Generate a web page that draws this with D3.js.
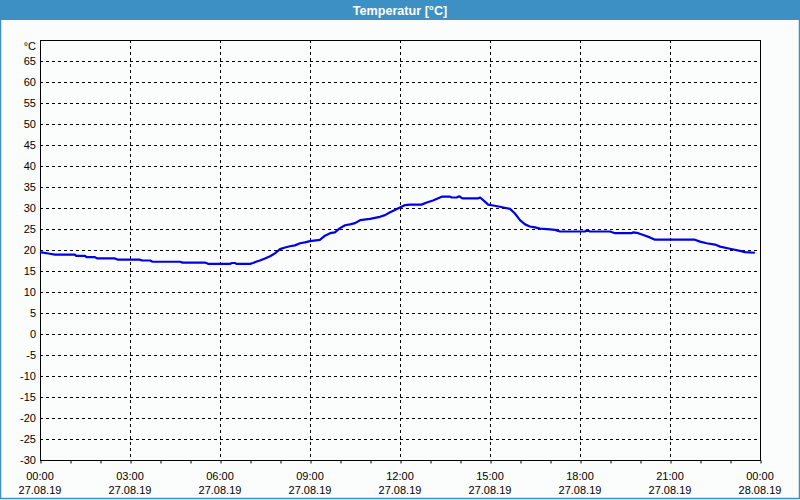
<!DOCTYPE html>
<html>
<head>
<meta charset="utf-8">
<script src="https://cdn.jsdelivr.net/npm/d3@7"></script>
<style>
html, body { margin: 0; padding: 0; background: #fbfdfc; }
svg { display: block; }
</style>
</head>
<body>
<svg id="chart" width="800" height="500"></svg>
<script>
// ---- data ----
const hours = [0,0.33,0.5,1.17,1.2,1.5,1.55,1.83,1.9,2.5,2.6,3.33,3.4,3.67,3.75,4.67,4.75,5.5,5.6,6.33,6.4,6.5,6.55,7.0,7.1,7.2,7.33,7.5,7.67,7.83,8.0,8.17,8.33,8.5,8.67,8.83,9.0,9.33,9.5,9.67,9.83,10.0,10.17,10.33,10.5,10.67,11.0,11.33,11.5,11.67,11.83,12.0,12.17,12.33,12.72,12.89,13.1,13.39,13.67,13.72,13.89,13.97,14.08,14.61,14.67,14.83,14.94,15.11,15.33,15.67,15.83,16.0,16.17,16.33,16.5,16.67,17.0,17.17,17.33,18.17,18.23,18.33,19.0,19.17,19.72,19.78,19.94,20.11,20.33,20.5,21.83,22.0,22.22,22.5,22.67,23.0,23.33,23.5,23.83];
const temps = [19.5,19.1,18.9,18.9,18.6,18.6,18.3,18.3,18.0,18.0,17.7,17.7,17.5,17.5,17.2,17.2,17.0,17.0,16.7,16.7,16.9,16.9,16.7,16.7,16.9,17.2,17.5,18.0,18.5,19.2,20.2,20.6,20.9,21.1,21.6,21.8,22.1,22.4,23.4,24.0,24.2,25.2,25.9,26.1,26.4,27.1,27.4,27.9,28.3,29.0,29.5,30.1,30.7,30.8,30.8,31.3,31.8,32.7,32.7,32.5,32.5,32.8,32.3,32.3,32.5,31.5,30.8,30.6,30.3,29.8,28.7,27.1,26.1,25.6,25.4,25.1,24.9,24.8,24.4,24.4,24.7,24.4,24.4,24.0,24.0,24.2,24.0,23.55,23.0,22.45,22.45,22.0,21.6,21.3,20.8,20.3,19.8,19.5,19.35];
const yTicks = [-30,-25,-20,-15,-10,-5,0,5,10,15,20,25,30,35,40,45,50,55,60,65];
const xMajor = [0,3,6,9,12,15,18,21,24];
const timeLabels = ["00:00","03:00","06:00","09:00","12:00","15:00","18:00","21:00","00:00"];
const dateLabels = ["27.08.19","27.08.19","27.08.19","27.08.19","27.08.19","27.08.19","27.08.19","27.08.19","28.08.19"];
const title = "Temperatur [°C]";
const unit = "°C";

// ---- layout ----
const W = 800, H = 500;
const L = 40, R = 760, T = 40, B = 460;
const svg = d3.select("#chart");
const font = "'Liberation Sans', Arial, sans-serif";

const x = d3.scaleLinear().domain([0,24]).range([L,R]);
const y = d3.scaleLinear().domain([-30,70]).range([B,T]);

// frame
svg.append("rect").attr("x",0).attr("y",0).attr("width",W).attr("height",H).attr("fill","#fbfdfc");
svg.append("rect").attr("x",0).attr("y",0).attr("width",W).attr("height",20).attr("fill","#3d90c3");
svg.append("rect").attr("x",0.5).attr("y",0.5).attr("width",W-1).attr("height",H-2).attr("fill","none").attr("stroke","#3d90c3").attr("stroke-width",1.5);
svg.append("text").attr("x",W/2).attr("y",15).attr("text-anchor","middle")
  .attr("font-family",font).attr("font-size",12.6).attr("font-weight","bold").attr("fill","#ffffff").text(title);

// gridlines
const grid = svg.append("g").attr("stroke","#000").attr("stroke-width",1).attr("stroke-dasharray","3,3");
yTicks.filter(v => v > -30).forEach(v => {
  grid.append("line").attr("x1",L).attr("x2",R).attr("y1",Math.round(y(v))+0.5).attr("y2",Math.round(y(v))+0.5);
});
xMajor.filter(h => h > 0 && h < 24).forEach(h => {
  grid.append("line").attr("y1",T).attr("y2",B).attr("x1",Math.round(x(h))+0.5).attr("x2",Math.round(x(h))+0.5);
});

// plot border
svg.append("rect").attr("x",L+0.5).attr("y",T+0.5).attr("width",R-L).attr("height",B-T)
  .attr("fill","none").attr("stroke","#000").attr("stroke-width",1);

// x axis minor ticks (hourly)
const xAxis = d3.axisBottom(x).tickValues(d3.range(0,25)).tickSize(3).tickFormat("");
const gx = svg.append("g").attr("transform",`translate(0.5,${B+0.5})`).call(xAxis);
gx.select(".domain").remove();
gx.selectAll("line").attr("stroke","#000");

// x labels
const xl = svg.append("g").attr("font-family",font).attr("font-size",11).attr("fill","#000").attr("text-anchor","middle");
xMajor.forEach((h,i) => {
  xl.append("text").attr("x",x(h)).attr("y",480).text(timeLabels[i]);
  xl.append("text").attr("x",x(h)).attr("y",494).text(dateLabels[i]);
});

// y labels
const yl = svg.append("g").attr("font-family",font).attr("font-size",11).attr("fill","#000").attr("text-anchor","end");
yTicks.forEach(v => {
  yl.append("text").attr("x",36).attr("y",y(v)+4).text(v);
});
yl.append("text").attr("x",36).attr("y",y(70)+10).text(unit);

// line
const pts = hours.map((h,i) => [h,temps[i]]);
svg.append("path").datum(pts)
  .attr("fill","none").attr("stroke","#0000e6").attr("stroke-width",2.2)
  .attr("stroke-linejoin","round")
  .attr("d", d3.line().x(d => x(d[0])).y(d => y(d[1])));
</script>
</body>
</html>
